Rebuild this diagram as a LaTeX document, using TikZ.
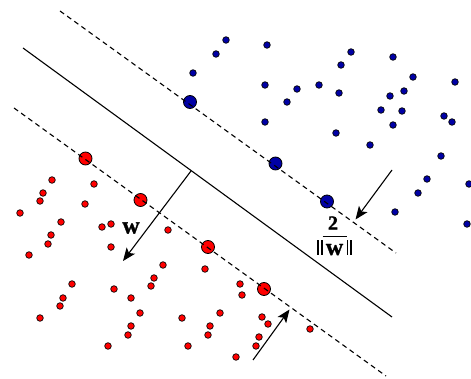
\documentclass[tikz,border=0pt]{standalone}
\usepackage{fontspec}
\setmainfont{Liberation Serif}
\newfontfamily\labelfont[BoldFeatures={FakeBold=1.2}]{Liberation Serif}
\usetikzlibrary{arrows.meta}
\definecolor{classblue}{RGB}{0,0,165}
\definecolor{classred}{RGB}{255,0,0}
\tikzset{
  smalldot/.style={circle, draw=black, line width=0.7pt, inner sep=0pt, minimum size=6.6pt},
  supportdot/.style={circle, draw=black, line width=0.8pt, inner sep=0pt, minimum size=13pt},
  bluept/.style={fill=classblue},
  redpt/.style={fill=classred},
  marginline/.style={line width=1.1pt, dash pattern=on 5pt off 3.8pt},
  planeline/.style={line width=1.1pt},
  vecarrow/.style={line width=1.1pt, -{Stealth[length=13pt,width=10.5pt,inset=3pt]}},
  labeltext/.style={font=\labelfont\fontsize{24}{24}\selectfont\bfseries, inner sep=0pt},
  numtext/.style={font=\labelfont\fontsize{20}{20}\selectfont\bfseries, inner sep=0pt},
}
% a thick bar of a norm sign
\newcommand{\normbar}{\rule{1.9pt}{14.5pt}}
\begin{document}
\begin{tikzpicture}[x=1pt,y=-1pt]
\useasboundingbox (0,0) rectangle (471,379);

% class +1 samples
\foreach \px/\py [count=\i] in {
  267/45, 351/52, 341/65, 393/57, 265/85, 297/89, 319/85, 287/102,
  339/93, 413/77, 404/91, 390/96, 455/82, 381/110, 402/111, 265/122,
  393/125, 444/116, 452/122, 336/133, 370/145, 441/156, 427/179, 469/184,
  226/40, 216/54, 193/73, 418/193, 395/212, 467/224}
  \node[smalldot, bluept] (b\i) at (\px,\py) {};

% class -1 samples
\foreach \px/\py [count=\i] in {
  52/180, 94/184, 43/193, 40/201, 85/204, 20/213, 61/222, 111/224,
  102/227, 168/230, 51/235, 48/244, 29/255, 111/247, 163/265, 205/269,
  154/278, 151/286, 72/284, 63/298, 60/306, 114/289, 131/298, 40/318,
  140/313, 182/318, 220/313, 131/326, 128/335, 210/326, 208/335, 108/346,
  188/346, 236/357, 240/284, 242/295, 262/317, 268/324, 259/337, 256/346,
  310/329}
  \node[smalldot, redpt] (r\i) at (\px,\py) {};

% support vectors
\node[supportdot, bluept] (sb1) at (190,102) {};
\node[supportdot, bluept] (sb2) at (275.5,163.5) {};
\node[supportdot, bluept] (sb3) at (327,201.5) {};
\node[supportdot, redpt] (sr1) at (85.5,158.5) {};
\node[supportdot, redpt] (sr2) at (140.5,200) {};
\node[supportdot, redpt] (sr3) at (208,247) {};
\node[supportdot, redpt] (sr4) at (264,289) {};

% hyperplane and margins
\coordinate (upA) at (60,11);
\coordinate (upB) at (396,253);
\coordinate (midA) at (23,48);
\coordinate (midB) at (392,317);
\coordinate (loA) at (14,108);
\coordinate (loB) at (386,376);
\draw[marginline] (upA) -- (upB);
\draw[planeline] (midA) -- (midB);
\draw[marginline] (loA) -- (loB);

% normal vector w
\coordinate (foot) at (191,171);
\coordinate (wtip) at (123,261);
\draw[vecarrow] (foot) -- (wtip);
\node[labeltext] (wlab) at (131,228) {w};

% margin width arrows
\coordinate (topTail) at (392,170);
\coordinate (topTip) at (355.5,219.5);
\draw[vecarrow] (topTail) -- (topTip);
\coordinate (botTail) at (253,360);
\coordinate (botTip) at (289.5,309.5);
\draw[vecarrow] (botTail) -- (botTip);

% margin width label
\node[numtext] (num) at (333,223) {2};
\node[labeltext, anchor=base] (den) at (334.5,255)
  {\normbar\kern1.6pt\normbar\vbox{\hrule height 1.2pt\kern6.5pt\hbox to 24pt{\hss w\hss}}\normbar\kern1.6pt\normbar};
\end{tikzpicture}
\end{document}
